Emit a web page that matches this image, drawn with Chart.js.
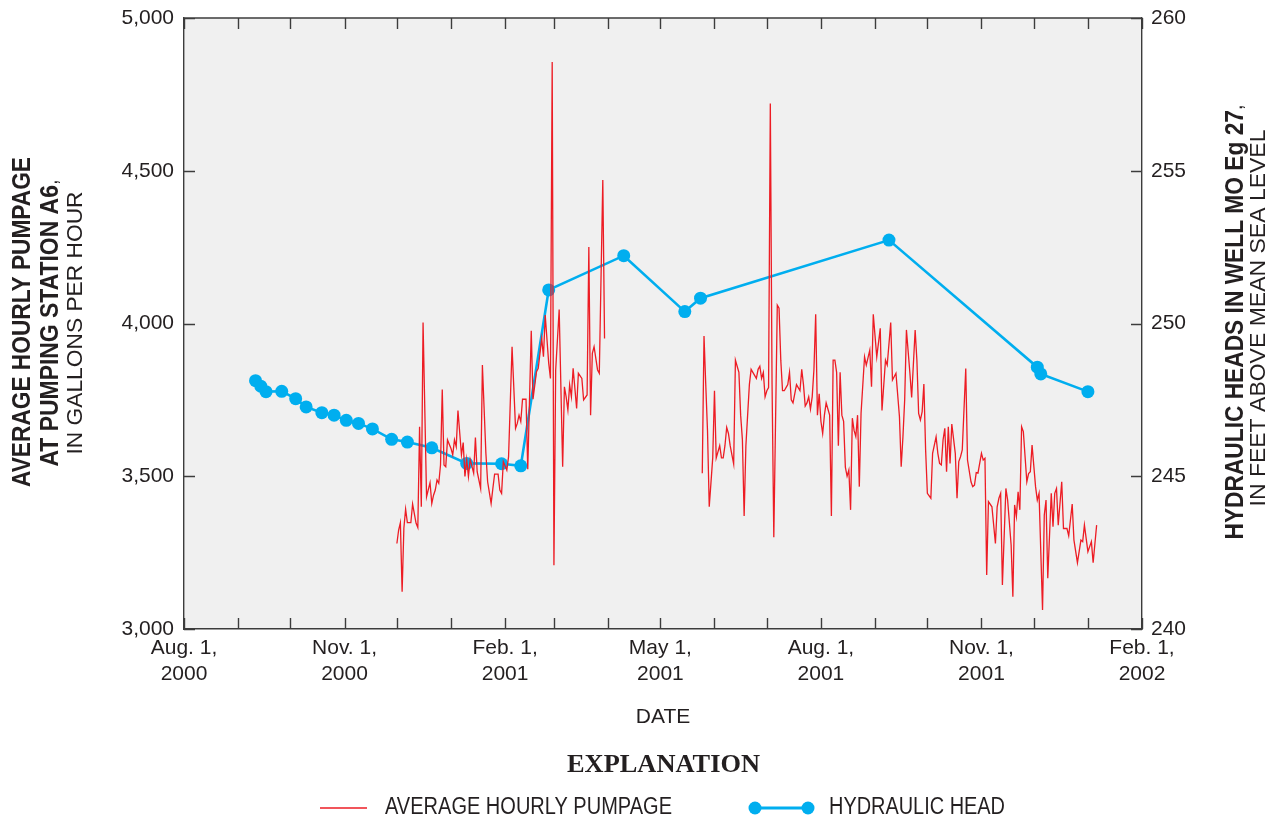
<!DOCTYPE html>
<html lang="en">
<head>
<meta charset="utf-8">
<title>Average hourly pumpage and hydraulic head</title>
<script src="https://cdn.jsdelivr.net/npm/chart.js@4.4.1/dist/chart.umd.min.js"></script>
<style>
  html, body { margin: 0; padding: 0; background: #ffffff; }
  canvas { display: block; }
</style>
</head>
<body>
<canvas id="chart" width="1276" height="820"></canvas>
<script>
// ─── Data ─────────────────────────────────────────────────────────

// Pumpage days are counted from Aug. 1, 2000 (day 0).
// Record A: Dec. 2000 – Mar. 2001, gallons per hour
const pumpDaysA = [
  122, 123, 124, 125, 126, 127, 128, 130, 131, 133,
  134, 135, 136, 137, 139, 141, 142, 143, 144, 145,
  146, 147, 148, 149, 150, 151, 153, 154, 155, 156,
  157, 159, 160, 161, 162, 163, 164, 166, 167, 168,
  170, 171, 173, 174, 176, 177, 178, 180, 181, 182,
  183, 185, 186, 188, 190, 191, 192, 193, 194, 196,
  197, 199, 200, 202, 203, 205, 206, 207, 209, 210,
  211, 212, 213, 215, 217, 218, 219, 220, 221, 222,
  223, 225, 226, 228, 229, 231, 232, 233, 234, 235,
  237, 238, 240, 241,
];
const pumpGphA = [
  3280, 3324, 3348, 3122, 3330, 3392, 3348, 3348, 3409, 3346,
  3332, 3662, 3400, 4003, 3433, 3479, 3411, 3438, 3455, 3488,
  3477, 3537, 3784, 3537, 3531, 3619, 3591, 3570, 3619, 3597,
  3715, 3570, 3610, 3499, 3555, 3499, 3555, 3510, 3627, 3515,
  3460, 3864, 3575, 3482, 3411, 3460, 3507, 3507, 3455, 3444,
  3548, 3520, 3564, 3924, 3657, 3673, 3700, 3679, 3752, 3752,
  3523, 3976, 3752, 3842, 3853, 3951, 3891, 4028, 3870, 3820,
  4856, 3209, 3848, 4046, 3531, 3793, 3760, 3717, 3799, 3760,
  3853, 3722, 3837, 3820, 3750, 3766, 4250, 3700, 3902, 3924,
  3848, 3837, 4470, 3951,
];

// Record B: late May 2001 – Jan. 2002
const pumpDaysB = [
  297, 298, 299, 300, 301, 302, 303, 304, 305, 306,
  307, 308, 309, 310, 311, 312, 313, 314, 315, 316,
  317, 318, 319, 320, 321, 322, 323, 324, 325, 326,
  327, 328, 329, 330, 331, 332, 333, 334, 335, 336,
  337, 338, 340, 341, 342, 343, 344, 345, 346, 347,
  348, 349, 350, 351, 352, 353, 354, 355, 356, 357,
  358, 359, 360, 361, 362, 363, 364, 365, 366, 367,
  368, 369, 370, 371, 372, 373, 374, 375, 376, 377,
  378, 379, 380, 381, 382, 383, 384, 385, 386, 387,
  388, 390, 391, 393, 394, 395, 397, 399, 400, 402,
  403, 405, 406, 408, 410, 411, 412, 413, 414, 416,
  417, 419, 420, 421, 422, 423, 424, 425, 426, 428,
  429, 431, 432, 433, 434, 435, 436, 437, 438, 439,
  440, 442, 443, 444, 445, 446, 448, 449, 451, 452,
  453, 454, 455, 457, 458, 459, 460, 461, 463, 465,
  466, 467, 468, 469, 471, 472, 474, 475, 476, 477,
  478, 479, 480, 481, 483, 484, 485, 486, 488, 489,
  490, 492, 493, 494, 495, 497, 498, 499, 500, 501,
  503, 504, 506, 507, 509, 510, 512, 514, 515, 516,
  518, 520, 521, 523,
];
const pumpGphB = [
  3510, 3959, 3800, 3650, 3400, 3480, 3560, 3780, 3560, 3580,
  3600, 3560, 3560, 3600, 3660, 3640, 3600, 3570, 3540, 3880,
  3860, 3840, 3700, 3620, 3370, 3600, 3700, 3800, 3850, 3840,
  3830, 3820, 3850, 3860, 3820, 3840, 3760, 3780, 3790, 4720,
  3800, 3300, 4060, 4050, 3880, 3780, 3780, 3790, 3800, 3840,
  3750, 3740, 3770, 3800, 3790, 3780, 3850, 3800, 3730, 3740,
  3760, 3720, 3760, 3850, 4030, 3700, 3770, 3680, 3640, 3700,
  3740, 3720, 3700, 3370, 3880, 3880, 3840, 3600, 3840, 3700,
  3680, 3530, 3500, 3520, 3390, 3690, 3650, 3630, 3700, 3466,
  3706, 3891, 3864, 3913, 3793, 4030, 3891, 3984, 3715, 3880,
  3864, 4003, 3815, 3837, 3695, 3531, 3629, 3750, 3979, 3837,
  3758, 3979, 3880, 3706, 3684, 3711, 3802, 3586, 3444, 3428,
  3575, 3629, 3575, 3542, 3537, 3619, 3657, 3515, 3662, 3542,
  3671, 3575, 3428, 3548, 3564, 3586, 3853, 3553, 3482, 3466,
  3471, 3512, 3510, 3575, 3553, 3559, 3177, 3417, 3400, 3280,
  3400, 3428, 3444, 3144, 3460, 3422, 3275, 3106, 3406, 3368,
  3449, 3390, 3662, 3646, 3482, 3509, 3515, 3602, 3466, 3422,
  3444, 3062, 3373, 3422, 3166, 3444, 3335, 3444, 3460, 3340,
  3482, 3329, 3329, 3305, 3409, 3291, 3217, 3291, 3286, 3340,
  3253, 3286, 3217, 3340,
];

// Hydraulic head in well MO Eg 27, feet above mean sea level
const headDates = [
  "2000-09-11", "2000-09-14", "2000-09-17", "2000-09-26", "2000-10-04",
  "2000-10-10", "2000-10-19", "2000-10-26", "2000-11-02", "2000-11-09",
  "2000-11-17", "2000-11-28", "2000-12-07", "2000-12-21", "2001-01-10",
  "2001-01-30", "2001-02-10", "2001-02-26", "2001-04-10", "2001-05-15",
  "2001-05-24", "2001-09-09", "2001-12-03", "2001-12-05", "2002-01-01",
];
const headFeet = [
  248.13, 247.95, 247.77, 247.78, 247.54,
  247.27, 247.08, 247.0, 246.83, 246.73,
  246.55, 246.21, 246.12, 245.93, 245.42,
  245.41, 245.34, 251.1, 252.22, 250.39,
  250.83, 252.73, 248.57, 248.35, 247.77,
];

// Labelled x ticks, one every third month
const xTickMonths = ["Aug. 1,", "Nov. 1,", "Feb. 1,", "May 1,", "Aug. 1,", "Nov. 1,", "Feb. 1,"];
const xTickYears = ["2000", "2000", "2001", "2001", "2001", "2001", "2002"];

// ─── Helpers ──────────────────────────────────────────────────────

const ORIGIN = Date.UTC(2000, 7, 1);
const DAY_MS = 86400000;
const SANS = "'Liberation Sans', Arial, Helvetica, sans-serif";
const SERIF = "'Liberation Serif', 'Times New Roman', serif";
const TEXT = "#231f20";
const AXIS = "#3c3c3c";
const RED = "#ed1c24";
const BLUE = "#00aeef";

/** Days after Aug. 1, 2000 for a "YYYY-MM-DD" string. */
function dayOf(iso) {
  const [y, m, d] = iso.split("-").map(Number);
  return (Date.UTC(y, m - 1, d) - ORIGIN) / DAY_MS;
}

// Month starts Aug. 2000 .. Feb. 2002 (minor ticks)
const monthTicks = [];
for (let i = 0; i <= 18; i++) {
  monthTicks.push((Date.UTC(2000, 7 + i, 1) - ORIGIN) / DAY_MS);
}

const pumpPoints = [
  ...pumpDaysA.map((d, i) => ({ x: d, y: pumpGphA[i] })),
  { x: (pumpDaysA[pumpDaysA.length - 1] + pumpDaysB[0]) / 2, y: null },
  ...pumpDaysB.map((d, i) => ({ x: d, y: pumpGphB[i] })),
];
const headPoints = headDates.map((s, i) => ({ x: dayOf(s), y: headFeet[i] }));

/**
 * Draws one line of text made of [text, font] runs, squeezed to a width.
 */
function drawFitted(ctx, runs, cx, cy, width, angle) {
  let total = 0;
  const widths = runs.map(([text, font]) => {
    ctx.font = font;
    const w = ctx.measureText(text).width;
    total += w;
    return w;
  });
  ctx.save();
  ctx.translate(cx, cy);
  ctx.rotate(angle);
  ctx.scale(width / total, 1);
  ctx.fillStyle = TEXT;
  ctx.textBaseline = "middle";
  ctx.textAlign = "left";
  let x = -total / 2;
  runs.forEach(([text, font], i) => {
    ctx.font = font;
    ctx.fillText(text, x, 0);
    x += widths[i];
  });
  ctx.restore();
}

/** Fixed scale box size; drop Chart.js's extra label padding. */
function fixBox(size) {
  return (scale) => {
    if (scale.isHorizontal()) scale.height = size;
    else scale.width = size;
    scale.paddingTop = 0;
    scale.paddingBottom = 0;
    scale.paddingLeft = 0;
    scale.paddingRight = 0;
  };
}

// ─── Plugins ──────────────────────────────────────────────────────

const plotBackground = {
  id: "plotBackground",
  beforeDraw(chart) {
    const { ctx, chartArea: a } = chart;
    ctx.save();
    ctx.fillStyle = "#f0f0f0";
    ctx.fillRect(a.left, a.top, a.right - a.left, a.bottom - a.top);
    ctx.restore();
  },
};

// Top frame line and inward-pointing tick marks on all four sides
const frameTicks = {
  id: "frameTicks",
  afterDatasetsDraw(chart) {
    const { ctx, chartArea: a, scales } = chart;
    const len = 11;
    ctx.save();
    ctx.strokeStyle = AXIS;
    ctx.lineWidth = 1.4;
    ctx.beginPath();
    ctx.moveTo(a.left, a.top);
    ctx.lineTo(a.right, a.top);
    scales.x.ticks.forEach((t) => {
      const px = Math.round(scales.x.getPixelForValue(t.value)) + 0.5;
      ctx.moveTo(px, a.bottom);
      ctx.lineTo(px, a.bottom - len);
      ctx.moveTo(px, a.top);
      ctx.lineTo(px, a.top + len);
    });
    scales.y.ticks.forEach((t) => {
      const py = Math.round(scales.y.getPixelForValue(t.value)) + 0.5;
      ctx.moveTo(a.left, py);
      ctx.lineTo(a.left + len, py);
    });
    scales.y2.ticks.forEach((t) => {
      const py = Math.round(scales.y2.getPixelForValue(t.value)) + 0.5;
      ctx.moveTo(a.right, py);
      ctx.lineTo(a.right - len, py);
    });
    ctx.stroke();
    ctx.restore();
  },
};

// Axis titles with mixed weights, and the explanation block
const titlesAndKey = {
  id: "titlesAndKey",
  afterDraw(chart) {
    const ctx = chart.ctx;
    const bold = `bold 25px ${SANS}`;
    const reg = `22px ${SANS}`;
    const up = -Math.PI / 2;

    drawFitted(ctx, [["AVERAGE HOURLY PUMPAGE", bold]], 23, 322, 330, up);
    drawFitted(ctx, [["AT PUMPING STATION A6", bold], [",", reg]], 51, 323, 287, up);
    drawFitted(ctx, [["IN GALLONS PER HOUR", reg]], 76, 323, 263, up);

    drawFitted(ctx, [["HYDRAULIC HEADS IN WELL MO Eg 27", bold], [",", reg]], 1236, 322, 435, up);
    drawFitted(ctx, [["IN FEET ABOVE MEAN SEA LEVEL", reg]], 1259, 318, 377, up);

    drawFitted(ctx, [["EXPLANATION", `bold 26px ${SERIF}`]], 663.5, 765, 193, 0);

    const keyY = 808;
    ctx.save();
    ctx.strokeStyle = RED;
    ctx.lineWidth = 1.3;
    ctx.beginPath();
    ctx.moveTo(320, keyY);
    ctx.lineTo(367, keyY);
    ctx.stroke();

    ctx.strokeStyle = BLUE;
    ctx.fillStyle = BLUE;
    ctx.lineWidth = 3;
    ctx.beginPath();
    ctx.moveTo(755, keyY);
    ctx.lineTo(808, keyY);
    ctx.stroke();
    [755, 808].forEach((x) => {
      ctx.beginPath();
      ctx.arc(x, keyY, 6.5, 0, Math.PI * 2);
      ctx.fill();
    });
    ctx.restore();

    drawFitted(ctx, [["AVERAGE HOURLY PUMPAGE", `23px ${SANS}`]], 528.5, keyY, 287, 0);
    drawFitted(ctx, [["HYDRAULIC HEAD", `23px ${SANS}`]], 917, keyY, 176, 0);
  },
};

// ─── Chart ────────────────────────────────────────────────────────

const tickFont = { family: SANS, size: 21, lineHeight: 1.25 };
const noGrid = { display: false, drawTicks: false };
const axisBorder = { display: true, color: AXIS, width: 1.4 };

new Chart(document.getElementById("chart"), {
  type: "line",
  data: {
    datasets: [
      {
        label: "Average hourly pumpage",
        data: pumpPoints,
        yAxisID: "y",
        borderColor: RED,
        borderWidth: 1.3,
        pointRadius: 0,
        tension: 0,
        spanGaps: false,
      },
      {
        label: "Hydraulic head",
        data: headPoints,
        yAxisID: "y2",
        borderColor: BLUE,
        backgroundColor: BLUE,
        borderWidth: 2.6,
        pointRadius: 6.5,
        pointBorderWidth: 0,
        pointBackgroundColor: BLUE,
        tension: 0,
      },
    ],
  },
  options: {
    responsive: false,
    animation: false,
    layout: { padding: { left: 0, right: 0, top: 18, bottom: 81 } },
    plugins: { legend: { display: false }, tooltip: { enabled: false } },
    scales: {
      x: {
        type: "linear",
        position: "bottom",
        min: 0,
        max: monthTicks[monthTicks.length - 1],
        grid: noGrid,
        border: axisBorder,
        afterBuildTicks: (scale) => {
          scale.ticks = monthTicks.map((v) => ({ value: v }));
        },
        afterFit: fixBox(110),
        ticks: {
          autoSkip: false,
          maxRotation: 0,
          minRotation: 0,
          padding: 6,
          color: TEXT,
          font: tickFont,
          callback: (value, index) =>
            index % 3 === 0 ? [xTickMonths[index / 3], xTickYears[index / 3]] : "",
        },
        title: {
          display: true,
          text: "DATE",
          color: TEXT,
          font: { family: SANS, size: 21, lineHeight: 1.2 },
          padding: { top: 0, bottom: 9 },
        },
      },
      y: {
        position: "left",
        min: 3000,
        max: 5000,
        grid: noGrid,
        border: axisBorder,
        afterFit: fixBox(184),
        ticks: {
          stepSize: 500,
          padding: 10,
          color: TEXT,
          font: tickFont,
          callback: (v) => v.toLocaleString("en-US"),
        },
      },
      y2: {
        position: "right",
        min: 240,
        max: 260,
        grid: noGrid,
        border: axisBorder,
        afterFit: fixBox(134),
        ticks: {
          stepSize: 5,
          padding: 9,
          color: TEXT,
          font: tickFont,
        },
      },
    },
  },
  plugins: [plotBackground, frameTicks, titlesAndKey],
});
</script>
</body>
</html>
